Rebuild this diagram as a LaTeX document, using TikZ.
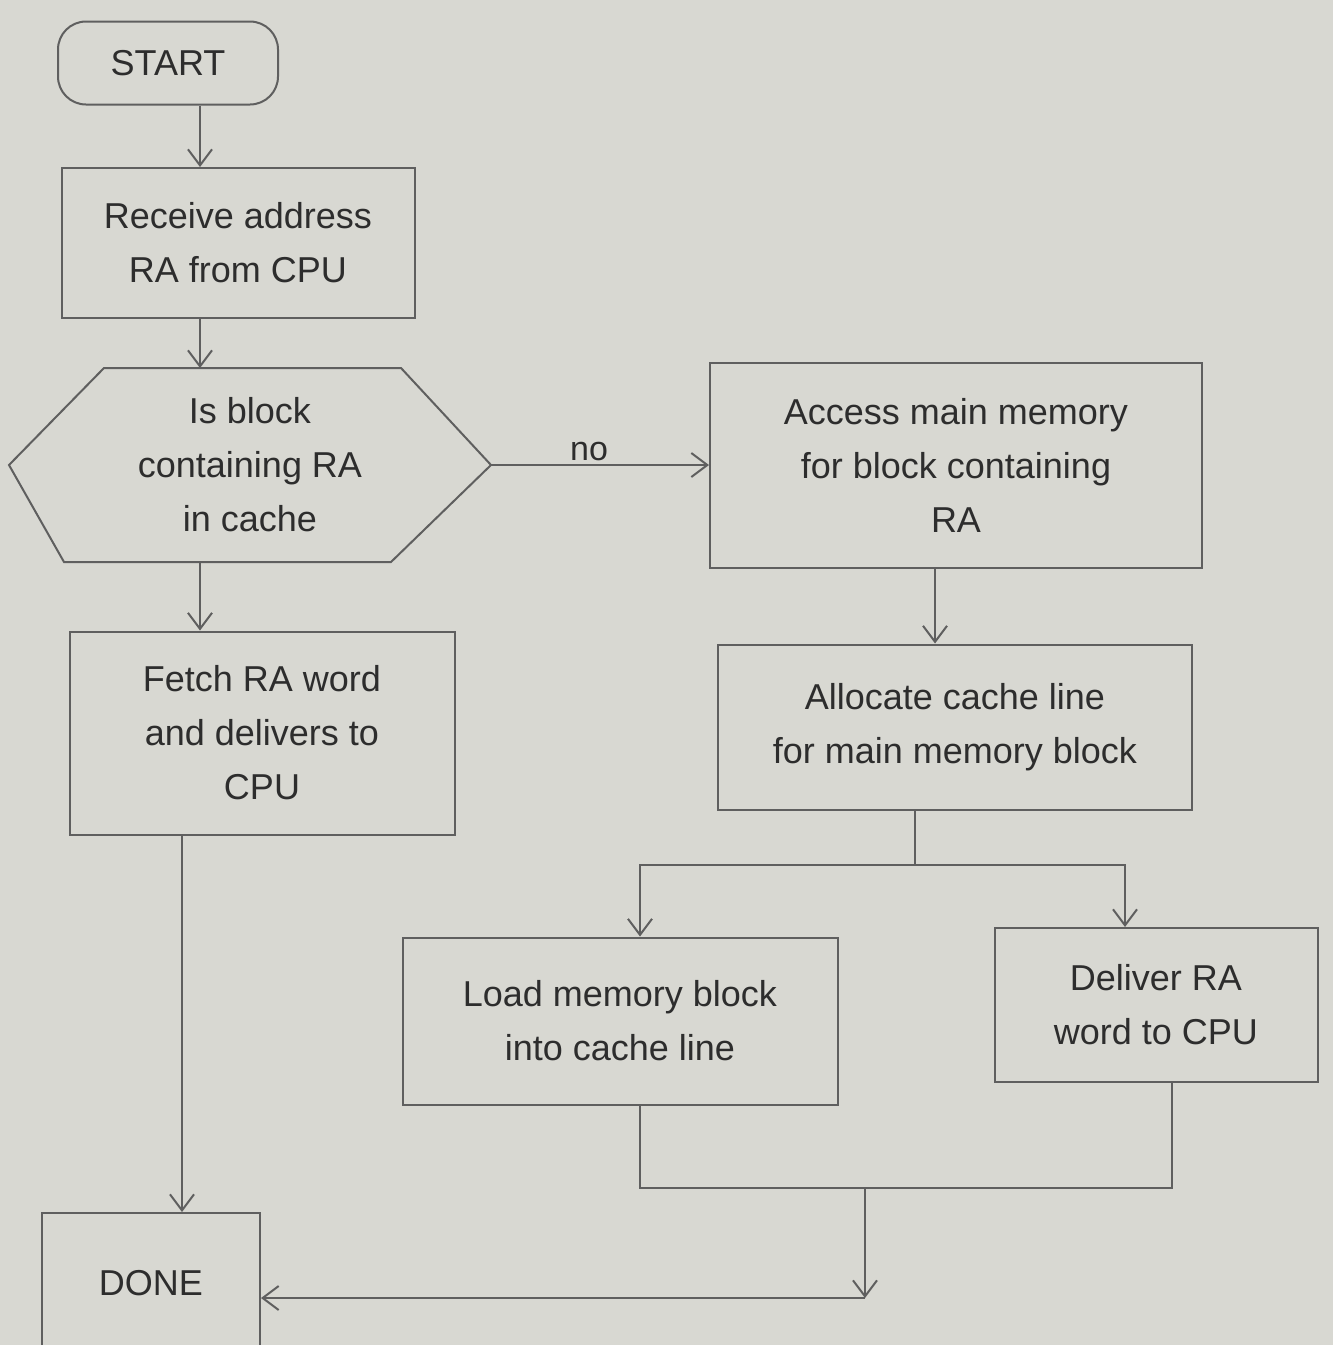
\documentclass[tikz,border=0pt]{standalone}
\usepackage{fontspec}
\setmainfont{Liberation Sans}
\usetikzlibrary{calc,arrows.meta}
\definecolor{paper}{RGB}{216,216,210}
\definecolor{ink}{RGB}{45,45,45}
\definecolor{pen}{RGB}{95,95,95}
\begin{document}
\begin{tikzpicture}[x=1pt,y=-1pt,
  box/.style={draw=pen,line width=2pt,rectangle,align=center,text=ink,
    font=\fontsize{36}{54}\selectfont,inner sep=4pt},
  arr/.style={draw=pen,line width=2pt,-{Straight Barb[length=16pt,width=24pt,line width=2pt]}},
  ln/.style={draw=pen,line width=2pt}]
\fill[paper] (0,0) rectangle (1333,1345);
\useasboundingbox (0,0) rectangle (1333,1345);

% nodes
\node[box,rounded corners=28pt,minimum width=220,minimum height=83] (start) at (168,63) {START};
\node[box,minimum width=353,minimum height=150] (recv) at (238,243) {Receive address\\RA from CPU};
\node[box,draw=none,minimum width=480,minimum height=192] (dec) at (250,465) {Is block\\containing RA\\in cache};
\draw[ln] (dec.west) -- ($(dec.north west)+(95,0)$) -- ($(dec.north east)+(-90,0)$) -- (dec.east)
  -- ($(dec.south east)+(-100,0)$) -- ($(dec.south west)+(55,0)$) -- cycle;
\node[box,minimum width=492,minimum height=205] (access) at (956,465) {Access main memory\\for block containing\\RA};
\node[box,minimum width=385,minimum height=203] (fetch) at (262,733) {Fetch RA word\\and delivers to\\CPU};
\node[box,minimum width=474,minimum height=165] (alloc) at (955,727) {Allocate cache line\\for main memory block};
\node[box,minimum width=435,minimum height=167] (load) at (620,1021) {Load memory block\\into cache line};
\node[box,minimum width=323,minimum height=154] (deliver) at (1156,1005) {Deliver RA\\word to CPU};
\node[box,minimum width=218,minimum height=140,text depth=0pt] (done) at (151,1283) {DONE};

% connectors
\draw[arr] ([xshift=32]start.south) -- ([xshift=32]start.south |- recv.north);
\draw[arr] ([xshift=-38]recv.south) -- ([xshift=-38]recv.south |- dec.north);
\draw[arr] ([xshift=-50]dec.south) -- ([xshift=-50]dec.south |- fetch.north);
\draw[arr] (dec.east) -- node[above,text=ink,font=\fontsize{34}{40}\selectfont,pos=0.45] {no} (access.west);
\draw[arr] ([xshift=-21]access.south) -- ([xshift=-21]access.south |- alloc.north);

\coordinate (split) at (915,865);
\draw[ln] (alloc.south -| split) -- (split);
\draw[arr] (split) -| ([xshift=20]load.north);
\draw[arr] (split) -| ([xshift=-31]deliver.north);

\coordinate (merge) at (865,1188);
\draw[ln] ([xshift=20]load.south) |- (merge);
\draw[ln] ([xshift=16]deliver.south) |- (merge);
\coordinate (turn) at (865,1298);
\draw[arr] (merge) -- (turn);
\draw[arr] (turn) -- (turn -| done.east);

\draw[arr] ([xshift=-80]fetch.south) -- ([xshift=-80]fetch.south |- done.north);
\end{tikzpicture}
\end{document}
